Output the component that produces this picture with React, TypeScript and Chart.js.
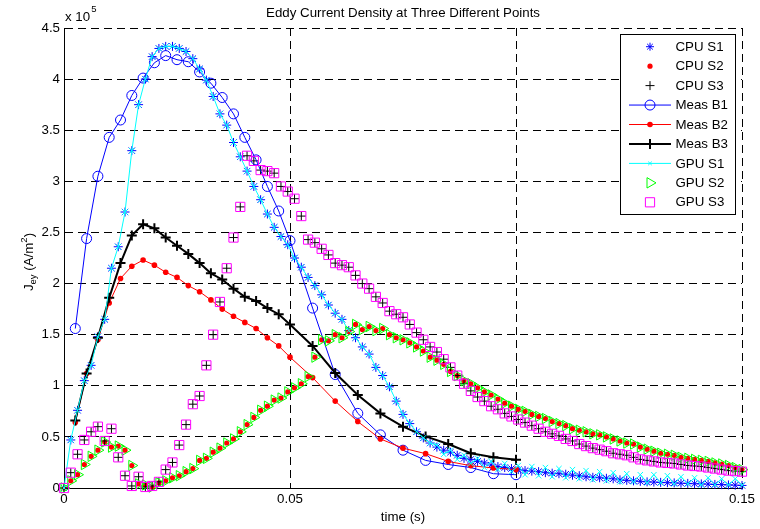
import React, { useEffect, useRef } from 'react';
import { Chart, registerables } from 'chart.js';
import { drawPoint } from 'chart.js/helpers';

Chart.register(...registerables);

const FONT = '"Liberation Sans", Arial, Helvetica, sans-serif';
const TITLE = 'Eddy Current Density at Three Different Points';
const X_LABEL = 'time (s)';
const X_TICKS = [0, 0.05, 0.1, 0.15];
const Y_TICKS = [0, 0.5, 1, 1.5, 2, 2.5, 3, 3.5, 4, 4.5];

// simulation time samples (s)
const TIME = [
  0, 0.0015, 0.003, 0.0045, 0.006, 0.0075, 0.009, 0.0105, 0.012, 0.0135,
  0.015, 0.0165, 0.018, 0.0195, 0.021, 0.0225, 0.024, 0.0255, 0.027, 0.0285,
  0.03, 0.0315, 0.033, 0.0345, 0.036, 0.0375, 0.039, 0.0405, 0.042, 0.0435,
  0.045, 0.0465, 0.048, 0.0495, 0.051, 0.0525, 0.054, 0.0555, 0.057, 0.0585,
  0.06, 0.0615, 0.063, 0.0645, 0.066, 0.0675, 0.069, 0.0705, 0.072, 0.0735,
  0.075, 0.0765, 0.078, 0.0795, 0.081, 0.0825, 0.084, 0.0855, 0.087, 0.0885,
  0.09, 0.0915, 0.093, 0.0945, 0.096, 0.0975, 0.099, 0.1005, 0.102, 0.1035,
  0.105, 0.1065, 0.108, 0.1095, 0.111, 0.1125, 0.114, 0.1155, 0.117, 0.1185,
  0.12, 0.1215, 0.123, 0.1245, 0.126, 0.1275, 0.129, 0.1305, 0.132, 0.1335,
  0.135, 0.1365, 0.138, 0.1395, 0.141, 0.1425, 0.144, 0.1455, 0.147, 0.1485,
  0.15,
];

// values in units of 1e5 A/m^2
const CPU_S1 = [
  0, 0.47, 0.76, 1.05, 1.2, 1.48, 1.65, 2.15, 2.36, 2.7,
  3.3, 3.75, 4.0, 4.22, 4.3, 4.32, 4.32, 4.3, 4.27, 4.2,
  4.1, 3.99, 3.83, 3.66, 3.55, 3.38, 3.24, 3.1, 2.95, 2.82,
  2.68, 2.55, 2.46, 2.38, 2.25, 2.16, 2.06, 1.98, 1.89, 1.79,
  1.71, 1.65, 1.54, 1.47, 1.38, 1.31, 1.18, 1.1, 0.99, 0.85,
  0.72, 0.63, 0.55, 0.49, 0.44, 0.4, 0.37, 0.35, 0.32, 0.29,
  0.28, 0.26, 0.245, 0.225, 0.21, 0.2, 0.19, 0.18, 0.17, 0.165,
  0.16, 0.15, 0.145, 0.14, 0.135, 0.125, 0.12, 0.11, 0.105, 0.1,
  0.095, 0.09, 0.08, 0.075, 0.07, 0.065, 0.06, 0.058, 0.055, 0.052,
  0.05, 0.047, 0.045, 0.042, 0.04, 0.038, 0.035, 0.033, 0.03, 0.028,
  0.025,
];

const GPU_S1 = [
  0, 0.47, 0.76, 1.05, 1.2, 1.48, 1.65, 2.15, 2.36, 2.7,
  3.3, 3.75, 4.0, 4.22, 4.3, 4.32, 4.32, 4.3, 4.27, 4.2,
  4.1, 3.99, 3.83, 3.66, 3.55, 3.38, 3.24, 3.1, 2.95, 2.82,
  2.68, 2.55, 2.46, 2.38, 2.25, 2.16, 2.06, 1.98, 1.89, 1.79,
  1.71, 1.65, 1.54, 1.47, 1.38, 1.31, 1.18, 1.1, 0.99, 0.85,
  0.72, 0.63, 0.55, 0.49, 0.44, 0.42, 0.33, 0.37, 0.28, 0.32,
  0.24, 0.29, 0.2, 0.26, 0.18, 0.24, 0.16, 0.22, 0.13, 0.21,
  0.12, 0.2, 0.11, 0.19, 0.1, 0.18, 0.09, 0.17, 0.08, 0.16,
  0.07, 0.15, 0.06, 0.14, 0.06, 0.13, 0.05, 0.13, 0.05, 0.12,
  0.04, 0.11, 0.04, 0.1, 0.03, 0.1, 0.03, 0.09, 0.03, 0.09,
  0.03,
];

const CPU_S2 = [
  0, 0.07, 0.13, 0.23, 0.31, 0.37, 0.45, 0.4, 0.41, 0.37,
  0.22, 0.04, 0.03, 0.01, 0.05, 0.07, 0.1, 0.12, 0.16, 0.19,
  0.27, 0.29, 0.35, 0.39, 0.44, 0.48, 0.55, 0.62, 0.69, 0.76,
  0.8, 0.86, 0.88, 0.94, 0.98, 1.02, 1.09, 1.28, 1.45, 1.44,
  1.5, 1.47, 1.53, 1.6, 1.55, 1.58, 1.54, 1.56, 1.5, 1.47,
  1.45, 1.42, 1.38, 1.34, 1.28, 1.25, 1.21, 1.14, 1.1, 1.05,
  1.02, 0.98, 0.94, 0.91, 0.87, 0.83, 0.8, 0.77, 0.75, 0.72,
  0.7, 0.68, 0.65, 0.63, 0.61, 0.58, 0.565, 0.55, 0.53, 0.52,
  0.5, 0.48, 0.46, 0.44, 0.43, 0.4, 0.38, 0.36, 0.34, 0.33,
  0.32, 0.3, 0.29, 0.28, 0.27, 0.26, 0.245, 0.235, 0.22, 0.2,
  0.18,
];
const GPU_S2 = CPU_S2;

const CPU_S3 = [
  0, 0.15, 0.33, 0.47, 0.55, 0.6, 0.46, 0.58, 0.3, 0.12,
  0.02, 0.11, 0.01, 0.02, 0.06, 0.18, 0.25, 0.42, 0.62, 0.82,
  0.9, 1.2, 1.5, 1.82, 2.15, 2.45, 2.75, 3.25, 3.2, 3.11,
  3.1, 3.08, 2.95, 2.9, 2.83, 2.66, 2.43, 2.4, 2.34, 2.28,
  2.2, 2.18, 2.16, 2.08, 2.0, 1.95, 1.87, 1.81, 1.73, 1.7,
  1.67, 1.6, 1.52, 1.45, 1.38, 1.33, 1.26, 1.18, 1.1, 1.02,
  0.95, 0.89, 0.85, 0.8, 0.77, 0.73, 0.7, 0.67, 0.64, 0.61,
  0.58, 0.55, 0.53, 0.51, 0.48, 0.46, 0.43, 0.41, 0.39, 0.375,
  0.36, 0.34, 0.33, 0.32, 0.3, 0.28, 0.27, 0.26, 0.25, 0.245,
  0.24, 0.23, 0.22, 0.215, 0.21, 0.2, 0.19, 0.18, 0.17, 0.165,
  0.16,
];
const GPU_S3 = CPU_S3;

// measurement times (s)
const MEAS_T = [
  0.0025, 0.005, 0.0075, 0.01, 0.0125, 0.015, 0.0175, 0.02, 0.0225, 0.025,
  0.0275, 0.03, 0.0325, 0.035, 0.0375, 0.04, 0.0425, 0.045, 0.0475, 0.05,
  0.055, 0.06, 0.065, 0.07, 0.075, 0.08, 0.085, 0.09, 0.095, 0.1,
];
const MEAS_B1 = [
  1.56, 2.44, 3.05, 3.43, 3.6, 3.84, 4.01, 4.16, 4.23, 4.19,
  4.17, 4.07, 3.96, 3.82, 3.66, 3.43, 3.21, 2.95, 2.71, 2.42,
  1.76, 1.11, 0.73, 0.52, 0.37, 0.27, 0.23, 0.2, 0.14, 0.13,
];
const MEAS_B2 = [
  0.64, 1.12, 1.45, 1.81, 2.05, 2.17, 2.23, 2.18, 2.11, 2.06,
  1.98, 1.92, 1.84, 1.75, 1.68, 1.62, 1.56, 1.47, 1.39, 1.28,
  1.08, 0.85, 0.65, 0.48, 0.39, 0.336, 0.26, 0.218, 0.196, 0.18,
];
const MEAS_B3 = [
  0.66, 1.12, 1.47, 1.86, 2.2, 2.47, 2.58, 2.54, 2.45, 2.37,
  2.29, 2.2, 2.1, 2.04, 1.95, 1.87, 1.83, 1.76, 1.7, 1.6,
  1.39, 1.125, 0.91, 0.73, 0.6, 0.505, 0.43, 0.34, 0.3, 0.277,
];

const toXY = (xs: number[], ys: number[]) => xs.map((x, i) => ({ x, y: ys[i] }));

const BLUE = '#0000ff';
const RED = '#ff0000';
const BLACK = '#000000';
const CYAN = '#00ffff';
const GREEN = '#00ff00';
const MAGENTA = '#ff00ff';
const NONE = 'rgba(0,0,0,0)';

function buildDatasets() {
  const base = { clip: false as any, tension: 0, pointHoverRadius: 0 };
  return [
    { ...base, label: 'CPU S1', data: toXY(TIME, CPU_S1), showLine: false, borderColor: BLUE,
      pointStyle: 'star', pointRadius: 4.5, pointBorderColor: BLUE, pointBackgroundColor: NONE, pointBorderWidth: 1 },
    { ...base, label: 'CPU S2', data: toXY(TIME, CPU_S2), showLine: false, borderColor: RED,
      pointStyle: 'circle', pointRadius: 2.6, pointBorderColor: RED, pointBackgroundColor: RED, pointBorderWidth: 0 },
    { ...base, label: 'CPU S3', data: toXY(TIME, CPU_S3), showLine: false, borderColor: BLACK,
      pointStyle: 'cross', pointRadius: 4.5, pointBorderColor: BLACK, pointBackgroundColor: NONE, pointBorderWidth: 1 },
    { ...base, label: 'Meas B1', data: toXY(MEAS_T, MEAS_B1), showLine: true, borderColor: BLUE, borderWidth: 1,
      pointStyle: 'circle', pointRadius: 5, pointBorderColor: BLUE, pointBackgroundColor: NONE, pointBorderWidth: 1 },
    { ...base, label: 'Meas B2', data: toXY(MEAS_T, MEAS_B2), showLine: true, borderColor: RED, borderWidth: 1,
      pointStyle: 'circle', pointRadius: 2.8, pointBorderColor: RED, pointBackgroundColor: RED, pointBorderWidth: 0 },
    { ...base, label: 'Meas B3', data: toXY(MEAS_T, MEAS_B3), showLine: true, borderColor: BLACK, borderWidth: 2,
      pointStyle: 'cross', pointRadius: 5, pointBorderColor: BLACK, pointBackgroundColor: NONE, pointBorderWidth: 2 },
    { ...base, label: 'GPU S1', data: toXY(TIME, GPU_S1), showLine: true, borderColor: CYAN, borderWidth: 1,
      pointStyle: 'crossRot', pointRadius: 3.8, pointBorderColor: CYAN, pointBackgroundColor: NONE, pointBorderWidth: 1 },
    { ...base, label: 'GPU S2', data: toXY(TIME, GPU_S2), showLine: false, borderColor: GREEN,
      pointStyle: 'triangle', pointRotation: 90, pointRadius: 6, pointBorderColor: GREEN, pointBackgroundColor: NONE, pointBorderWidth: 1 },
    { ...base, label: 'GPU S3', data: toXY(TIME, GPU_S3), showLine: false, borderColor: MAGENTA,
      pointStyle: 'rect', pointRadius: 6.5, pointBorderColor: MAGENTA, pointBackgroundColor: NONE, pointBorderWidth: 1 },
  ].map((d, i, arr) => ({ ...d, order: arr.length - i }));
}

const fmt = (v: number) => String(parseFloat(Number(v).toFixed(3)));

const textPlugin = {
  id: 'matlabText',
  afterDraw(chart: any) {
    const ctx = chart.ctx as CanvasRenderingContext2D;
    const a = chart.chartArea;
    ctx.save();
    ctx.fillStyle = '#000';
    ctx.font = `13.3px ${FONT}`;
    ctx.textAlign = 'center';
    ctx.textBaseline = 'middle';
    const cx = (a.left + a.right) / 2;
    ctx.fillText(TITLE, cx, 13);
    ctx.fillText(X_LABEL, cx, 517);

    // exponent label
    ctx.textAlign = 'left';
    ctx.textBaseline = 'alphabetic';
    ctx.fillText('x 10', a.left + 1, 21);
    const w10 = ctx.measureText('x 10').width;
    ctx.font = `9.5px ${FONT}`;
    ctx.fillText('5', a.left + 2 + w10, 12);

    // y label, rotated, with sub/superscript
    const segs = [
      { t: 'J', size: 13.3, dy: 0 },
      { t: 'ey', size: 9.5, dy: 3.5 },
      { t: ' (A/m', size: 13.3, dy: 0 },
      { t: '2', size: 9.5, dy: -5.5 },
      { t: ')', size: 13.3, dy: 0 },
    ];
    let total = 0;
    for (const s of segs) {
      ctx.font = `${s.size}px ${FONT}`;
      total += ctx.measureText(s.t).width;
    }
    ctx.save();
    ctx.translate(32.5, 262);
    ctx.rotate(-Math.PI / 2);
    let xx = -total / 2;
    for (const s of segs) {
      ctx.font = `${s.size}px ${FONT}`;
      ctx.fillText(s.t, xx, s.dy);
      xx += ctx.measureText(s.t).width;
    }
    ctx.restore();

    // legend
    const L = 620.5, T = 34.5, R = 735.5, B = 214.5;
    ctx.fillStyle = '#fff';
    ctx.fillRect(L, T, R - L, B - T);
    ctx.strokeStyle = '#000';
    ctx.lineWidth = 1;
    ctx.strokeRect(L, T, R - L, B - T);
    const datasets = chart.data.datasets;
    datasets.forEach((ds: any, i: number) => {
      const y = 46.7 + i * 19.45;
      if (ds.showLine) {
        ctx.save();
        ctx.strokeStyle = ds.borderColor;
        ctx.lineWidth = ds.borderWidth;
        ctx.beginPath();
        ctx.moveTo(629, y);
        ctx.lineTo(671, y);
        ctx.stroke();
        ctx.restore();
      }
      ctx.save();
      ctx.strokeStyle = ds.pointBorderColor;
      ctx.fillStyle = ds.pointBackgroundColor;
      ctx.lineWidth = ds.pointBorderWidth;
      let r = ds.pointRadius;
      if (ds.label === 'GPU S1') r = 2.5;
      if (ds.label === 'CPU S1') r = 4;
      drawPoint(ctx, {
        pointStyle: ds.pointStyle,
        rotation: ds.pointRotation || 0,
        radius: r,
        borderWidth: ds.pointBorderWidth,
      } as any, 650, y);
      ctx.restore();
      ctx.fillStyle = '#000';
      ctx.font = `13.3px ${FONT}`;
      ctx.textAlign = 'left';
      ctx.textBaseline = 'middle';
      ctx.fillText(ds.label, 675.5, y + 0.5);
    });
    ctx.restore();
  },
};

export default function App() {
  const ref = useRef<HTMLCanvasElement | null>(null);
  useEffect(() => {
    if (!ref.current) return;
    const tickFont = { family: FONT, size: 13.3 };
    const chart = new Chart(ref.current, {
      type: 'scatter',
      data: { datasets: buildDatasets() as any },
      options: {
        responsive: false,
        animation: false,
        devicePixelRatio: 1,
        events: [],
        layout: { padding: { top: 28, right: 18, left: 0, bottom: 0 } },
        plugins: {
          legend: { display: false },
          title: { display: false },
          tooltip: { enabled: false },
        },
        scales: {
          x: {
            type: 'linear',
            min: 0,
            max: 0.15,
            afterFit: (s: any) => { s.height = 41; },
            afterBuildTicks: (s: any) => { s.ticks = X_TICKS.map((v) => ({ value: v })); },
            ticks: {
              color: '#000',
              font: tickFont,
              padding: 3,
              maxRotation: 0,
              autoSkip: false,
              callback: (v: any) => fmt(v),
            },
            grid: { color: '#000', lineWidth: 1, drawTicks: false },
            border: { display: true, color: '#000', width: 1, dash: [8, 5] },
          },
          y: {
            type: 'linear',
            min: 0,
            max: 4.5,
            afterFit: (s: any) => { s.width = 64; },
            afterBuildTicks: (s: any) => { s.ticks = Y_TICKS.map((v) => ({ value: v })); },
            ticks: {
              color: '#000',
              font: tickFont,
              padding: 4,
              autoSkip: false,
              callback: (v: any) => fmt(v),
            },
            grid: { color: '#000', lineWidth: 1, drawTicks: false },
            border: { display: true, color: '#000', width: 1, dash: [8, 5] },
          },
        },
      } as any,
      plugins: [textPlugin],
    });
    return () => chart.destroy();
  }, []);
  return (
    <div style={{ position: 'absolute', left: 0, top: 0, width: 760, height: 529, background: '#fff' }}>
      <canvas ref={ref} width={760} height={529} style={{ display: 'block' }} />
    </div>
  );
}
